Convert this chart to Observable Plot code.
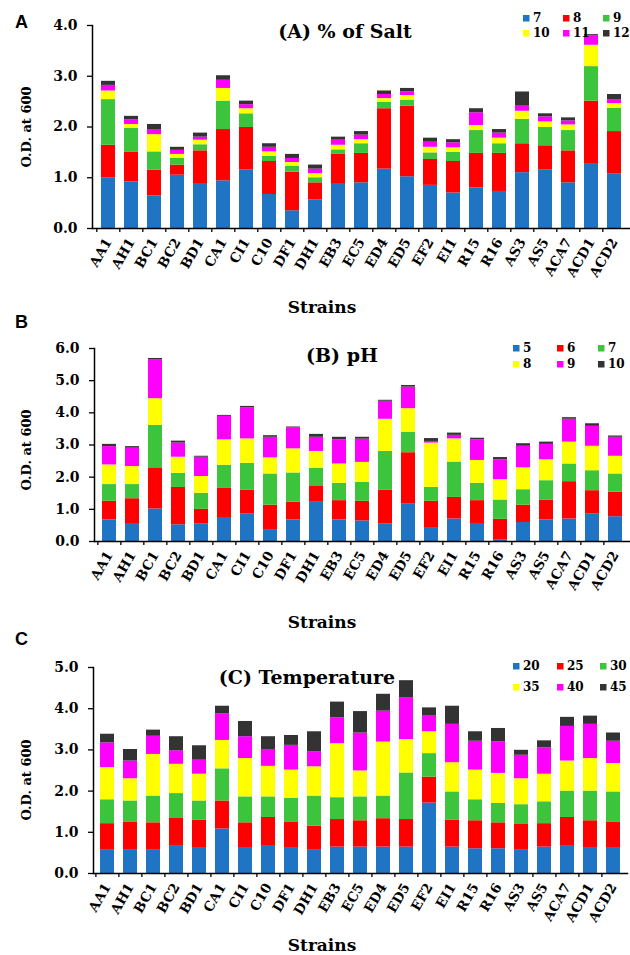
<!DOCTYPE html>
<html><head><meta charset="utf-8">
<script src="https://cdn.jsdelivr.net/npm/d3@7"></script>
<script src="https://cdn.jsdelivr.net/npm/@observablehq/plot@0.6"></script>
<style>
html,body{margin:0;padding:0;background:#fff;}
#wrap{position:relative;width:630px;height:955px;overflow:hidden;background:#fff;}
#wrap > .panel{position:absolute;left:0;}
#overlay{position:absolute;left:0;top:0;pointer-events:none;}
</style></head><body><div id="wrap"></div>
<script>
// ---------- data ----------
const strains = ["AA1","AH1","BC1","BC2","BD1","CA1","CI1","C10","DF1","DH1","EB3","EC5","ED4","ED5","EF2","EI1","R15","R16","AS3","AS5","ACA7","ACD1","ACD2"];

const saltLevels = ["7","8","9","10","11","12"];
const salt7  = [1.00,0.92,0.64,1.05,0.87,0.94,1.15,0.67,0.35,0.56,0.87,0.90,1.17,1.02,0.85,0.70,0.80,0.73,1.10,1.15,0.90,1.28,1.08];
const salt8  = [0.64,0.58,0.51,0.20,0.66,1.01,0.84,0.65,0.76,0.34,0.59,0.58,1.19,1.39,0.51,0.62,0.68,0.75,0.57,0.48,0.63,1.23,0.83];
const salt9  = [0.90,0.47,0.36,0.13,0.12,0.56,0.27,0.10,0.12,0.10,0.09,0.19,0.13,0.12,0.13,0.18,0.45,0.19,0.48,0.36,0.40,0.68,0.46];
const salt10 = [0.17,0.08,0.34,0.08,0.09,0.25,0.10,0.09,0.07,0.08,0.09,0.08,0.07,0.09,0.11,0.09,0.10,0.11,0.16,0.11,0.11,0.42,0.09];
const salt11 = [0.11,0.09,0.10,0.08,0.06,0.16,0.08,0.09,0.08,0.09,0.10,0.09,0.08,0.07,0.10,0.10,0.25,0.10,0.10,0.10,0.08,0.19,0.08];
const salt12 = [0.08,0.07,0.10,0.06,0.08,0.09,0.07,0.07,0.08,0.08,0.06,0.07,0.07,0.07,0.08,0.06,0.08,0.07,0.28,0.06,0.06,0.02,0.10];

const phLevels = ["5","6","7","8","9","10"];
const ph5  = [0.67,0.56,1.01,0.52,0.54,0.72,0.85,0.37,0.67,1.22,0.67,0.64,0.54,1.16,0.41,0.70,0.56,0.04,0.59,0.67,0.70,0.85,0.77];
const ph6  = [0.58,0.77,1.28,1.16,0.46,0.93,0.75,0.76,0.55,0.51,0.60,0.61,1.06,1.60,0.84,0.67,0.71,0.65,0.54,0.62,1.16,0.73,0.76];
const ph7  = [0.52,0.44,1.32,0.44,0.50,0.72,0.83,0.97,0.91,0.55,0.54,0.59,1.20,0.64,0.43,1.10,0.54,0.60,0.48,0.60,0.55,0.62,0.57];
const ph8  = [0.61,0.56,0.83,0.50,0.52,0.79,0.76,0.50,0.75,0.52,0.60,0.62,1.00,0.73,1.38,0.72,0.71,0.63,0.68,0.65,0.68,0.76,0.55];
const ph9  = [0.57,0.57,1.20,0.44,0.60,0.73,0.97,0.64,0.65,0.44,0.75,0.72,0.56,0.67,0.05,0.11,0.64,0.62,0.67,0.48,0.71,0.62,0.59];
const ph10 = [0.07,0.05,0.05,0.06,0.03,0.03,0.04,0.05,0.03,0.09,0.08,0.06,0.03,0.05,0.09,0.07,0.05,0.07,0.08,0.07,0.05,0.08,0.04];

const tempLevels = ["20","25","30","35","40","45"];
const t20 = [0.58,0.58,0.58,0.66,0.63,1.08,0.63,0.66,0.63,0.58,0.64,0.64,0.64,0.64,1.71,0.64,0.60,0.60,0.58,0.64,0.66,0.63,0.63];
const t25 = [0.63,0.66,0.65,0.69,0.66,0.68,0.60,0.70,0.61,0.57,0.67,0.64,0.69,0.67,0.63,0.65,0.68,0.63,0.61,0.57,0.70,0.65,0.61];
const t30 = [0.58,0.52,0.65,0.59,0.47,0.78,0.63,0.50,0.58,0.73,0.53,0.58,0.55,1.13,0.57,0.69,0.51,0.47,0.48,0.53,0.64,0.72,0.74];
const t35 = [0.78,0.54,1.01,0.71,0.65,0.69,0.93,0.74,0.69,0.71,1.31,0.63,1.31,0.81,0.53,0.71,0.72,0.73,0.63,0.67,0.73,0.79,0.69];
const t40 = [0.60,0.43,0.44,0.33,0.34,0.65,0.53,0.41,0.60,0.36,0.63,0.92,0.75,1.02,0.38,0.93,0.70,0.77,0.57,0.64,0.84,0.83,0.54];
const t45 = [0.21,0.28,0.15,0.34,0.35,0.18,0.37,0.31,0.24,0.49,0.38,0.52,0.41,0.41,0.20,0.44,0.23,0.32,0.12,0.17,0.22,0.20,0.20];

const yTicksA = [0,1,2,3,4];
const yTicksB = [0,1,2,3,4,5,6];
const yTicksC = [0,1,2,3,4,5];

// ---------- styles / layout ----------
const colors = ["#1f74c4","#ff0000","#3cc43c","#ffff00","#ff00ff","#333333"];
const SERIF = "'DejaVu Serif', 'Liberation Serif', serif";

const panels = [
  {letter:"A", title:"(A) % of Salt", levels:saltLevels, series:[salt7,salt8,salt9,salt10,salt11,salt12], ticks:yTicksA,
   top:0, height:310, mt:25, mb:82, ml:92, mr:0,
   letterY:28, titleX:345, titleY:38, ylabY:127, strainsY:313,
   legCols:[523,563,603], legRows:[15,30]},
  {letter:"B", title:"(B) pH", levels:phLevels, series:[ph5,ph6,ph7,ph8,ph9,ph10], ticks:yTicksB,
   top:310, height:318, mt:38, mb:87, ml:94, mr:0,
   letterY:328, titleX:342, titleY:362, ylabY:450, strainsY:628,
   legCols:[513,557,598], legRows:[345,361]},
  {letter:"C", title:"(C) Temperature", levels:tempLevels, series:[t20,t25,t30,t35,t40,t45], ticks:yTicksC,
   top:628, height:327, mt:39, mb:82, ml:93, mr:3,
   letterY:645, titleX:307, titleY:684, ylabY:780, strainsY:951,
   legCols:[513,557,600], legRows:[663,684]}
];

const wrap = document.getElementById("wrap");

for (const p of panels) {
  const rows = [];
  p.levels.forEach((lv, i) => {
    strains.forEach((s, j) => rows.push({strain: s, level: lv, value: p.series[i][j]}));
  });
  const step = (630 - p.ml - p.mr) / strains.length;
  const chart = Plot.plot({
    width: 630, height: p.height,
    marginTop: p.mt, marginBottom: p.mb, marginLeft: p.ml, marginRight: p.mr,
    style: {fontFamily: SERIF, fontWeight: "bold", fontSize: "13px", color: "#000", background: "transparent", overflow: "visible"},
    x: {domain: strains, paddingInner: 0.40, paddingOuter: 0.20, label: null},
    y: {domain: [0, d3.max(p.ticks)], label: null},
    color: {domain: p.levels, range: colors},
    marks: [
      Plot.barY(rows, {x: "strain", y: "value", fill: "level"}),
      Plot.axisY({ticks: p.ticks, tickFormat: d3.format(".1f"), tickSize: 5, tickPadding: 10, strokeWidth: 1.3, fontSize: 14, label: null}),
      Plot.axisX({tickSize: 4, tickFormat: () => "", dx: -step / 2, strokeWidth: 1.3, label: null}),
      Plot.axisX({tickSize: 0, tickRotate: -60, tickPadding: 11, fontSize: 13.5, label: null}),
      Plot.frame({anchor: "left", strokeWidth: 1.5}),
      Plot.frame({anchor: "bottom", strokeWidth: 1.5})
    ]
  });
  chart.classList.add("panel");
  chart.style.top = p.top + "px";
  wrap.appendChild(chart);
}

// ---------- overlay text & legends ----------
const svg = d3.select(wrap).append("svg").attr("id", "overlay").attr("width", 630).attr("height", 955);
for (const p of panels) {
  svg.append("text").attr("x", 15).attr("y", p.letterY)
    .style("font-family", "'Liberation Sans', Arial, sans-serif").style("font-weight", "bold").style("font-size", "18px")
    .text(p.letter);
  svg.append("text").attr("x", p.titleX).attr("y", p.titleY).attr("text-anchor", "middle")
    .style("font-family", SERIF).style("font-weight", "bold").style("font-size", "19px")
    .text(p.title);
  svg.append("text").attr("transform", `translate(26,${p.ylabY}) rotate(-90)`)
    .attr("text-anchor", "middle").attr("dy", "0.35em")
    .style("font-family", SERIF).style("font-weight", "bold").style("font-size", "13px")
    .text("O.D. at 600");
  svg.append("text").attr("x", 322).attr("y", p.strainsY).attr("text-anchor", "middle")
    .style("font-family", SERIF).style("font-weight", "bold").style("font-size", "17px")
    .text("Strains");
  p.levels.forEach((lv, i) => {
    const cx = p.legCols[i % 3], ry = p.legRows[Math.floor(i / 3)];
    svg.append("rect").attr("x", cx).attr("y", ry).attr("width", 6.5).attr("height", 6.5).attr("fill", colors[i]);
    svg.append("text").attr("x", cx + 10).attr("y", ry + 7)
      .style("font-family", SERIF).style("font-weight", "bold").style("font-size", "12px")
      .text(lv);
  });
}
</script></body></html>
